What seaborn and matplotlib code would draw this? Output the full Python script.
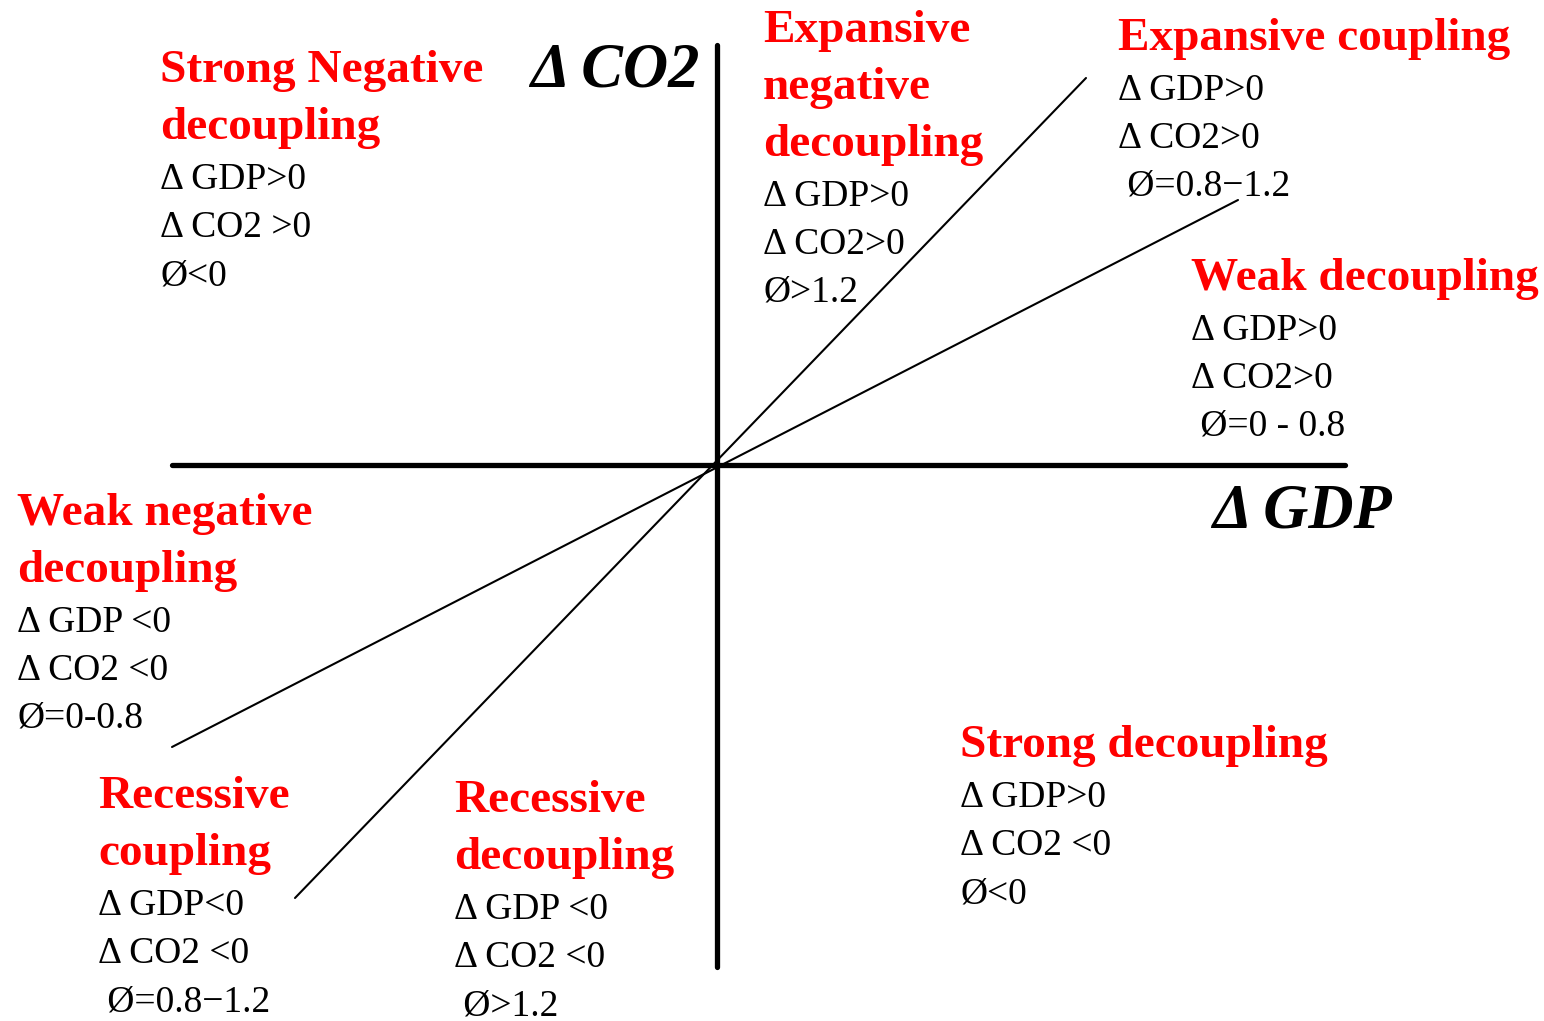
import matplotlib
matplotlib.use("Agg")
import matplotlib.pyplot as plt
import seaborn as sns

# Decoupling diagram: dGDP on x, dCO2 on y (units are arbitrary, origin at axis crossing)
axis_gdp_x = [-545, 628]
axis_co2_y = [-502, 420]

# elasticity boundary lines through the origin
steep_x = [-422, 369]
steep_y = [-433, 387]
shallow_x = [-545, 521]
shallow_y = [-282, 265]

titles = [
    ["Strong Negative", "decoupling"],
    ["Expansive", "negative", "decoupling"],
    ["Expansive coupling"],
    ["Weak decoupling"],
    ["Weak negative", "decoupling"],
    ["Recessive", "coupling"],
    ["Recessive", "decoupling"],
    ["Strong decoupling"],
]
conditions = [
    ["Δ GDP>0", "Δ CO2 >0", "Ø<0"],
    ["Δ GDP>0", "Δ CO2>0", "Ø>1.2"],
    ["Δ GDP>0", "Δ CO2>0", " Ø=0.8−1.2"],
    ["Δ GDP>0", "Δ CO2>0", " Ø=0 - 0.8"],
    ["Δ GDP <0", "Δ CO2 <0", "Ø=0-0.8"],
    ["Δ GDP<0", "Δ CO2 <0", " Ø=0.8−1.2"],
    ["Δ GDP <0", "Δ CO2 <0", " Ø>1.2"],
    ["Δ GDP>0", "Δ CO2 <0", "Ø<0"],
]

# left edge / first baseline of each label block
anchors = [(-557, 383), (46, 423), (401, 415), (474, 175),
           (-700, -60), (-619, -343), (-263, -347), (243, -292)]

sns.set_style("white")
plt.rcParams["font.family"] = ["Liberation Serif", "DejaVu Serif"]

fig = plt.figure(figsize=(15.44, 10.21), dpi=100)
ax = fig.add_axes([0, 0, 1, 1])
ax.set_xlim(-717, 827)
ax.set_ylim(-556, 465)
ax.axis("off")

# axes
sns.lineplot(x=axis_gdp_x, y=[0, 0], color="black", lw=3.8, ax=ax,
             estimator=None, sort=False)
sns.lineplot(x=[0, 0], y=axis_co2_y, color="black", lw=3.8, ax=ax,
             estimator=None, sort=False)
# boundary lines
sns.lineplot(x=steep_x, y=steep_y, color="black", lw=1.5, ax=ax,
             estimator=None, sort=False)
sns.lineplot(x=shallow_x, y=shallow_y, color="black", lw=1.5, ax=ax,
             estimator=None, sort=False)

ax.text(-187, 378, "Δ CO2", color="black", fontsize=45, fontweight="bold",
        fontstyle="italic", va="baseline", ha="left")
ax.text(495, -62, "Δ GDP", color="black", fontsize=45, fontweight="bold",
        fontstyle="italic", va="baseline", ha="left")

red_step, gap, black_step = 57, 50, 48
for (x0, y0), tl, cl in zip(anchors, titles, conditions):
    y = y0
    for i, t in enumerate(tl):
        if i:
            y -= red_step
        ax.text(x0, y, t, color="red", fontsize=34, fontweight="bold",
                va="baseline", ha="left")
    y -= gap
    for i, c in enumerate(cl):
        if i:
            y -= black_step
        ax.text(x0, y, c, color="black", fontsize=27, va="baseline", ha="left")

fig.savefig("out.png", dpi=100, facecolor="white")
